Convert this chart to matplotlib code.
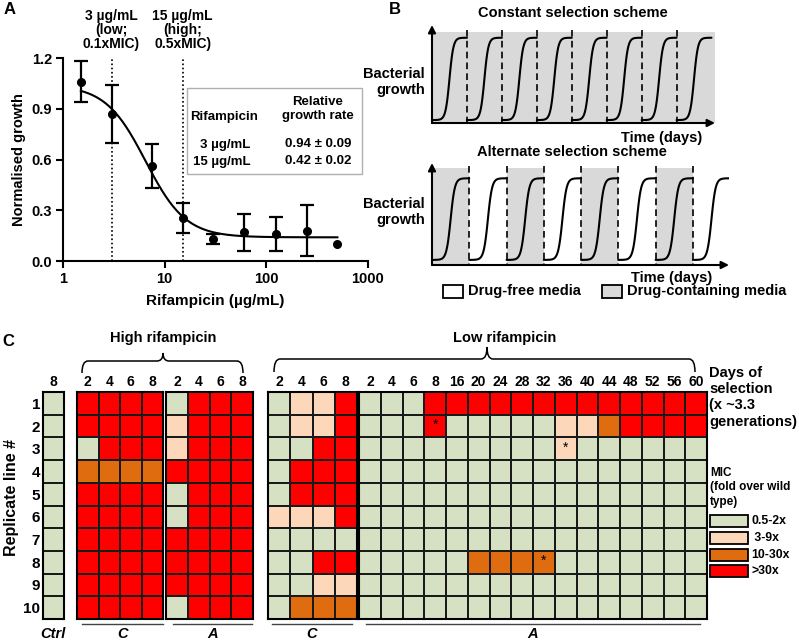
import numpy as np
import matplotlib
matplotlib.use('Agg')
import matplotlib.pyplot as plt
from matplotlib.colors import ListedColormap, BoundaryNorm
from matplotlib.patches import Rectangle, PathPatch
from matplotlib.path import Path
from matplotlib.ticker import NullLocator
import matplotlib.transforms as mtransforms

plt.rcParams['font.family'] = ['Liberation Sans', 'DejaVu Sans']
plt.rcParams['font.weight'] = 'bold'
plt.rcParams['axes.labelweight'] = 'bold'

W, H = 799, 641

#=========================================
# data
#=========================================

# panel A: dose response (last point has no error bar)
conc = [1.5, 3, 7.5, 15, 30, 60, 125, 250, 500]
growth = [1.06, 0.87, 0.56, 0.255, 0.13, 0.17, 0.16, 0.18, 0.10]
growth_err = [0.12, 0.17, 0.13, 0.09, 0.03, 0.11, 0.10, 0.15, 0.0]
fit_top, fit_bottom, fit_ec50, fit_hill = 1.04, 0.14, 6.5, 2.2
ytick_vals = [0.0, 0.3, 0.6, 0.9, 1.2]
xtick_vals = [1, 10, 100, 1000]

# panel B: transfers (days) and which ones contain drug
constant_drug = [1, 1, 1, 1, 1, 1, 1, 1]
alternate_drug = [1, 0, 1, 0, 1, 0, 1, 0]

# panel C: MIC category per replicate line (0: 0.5-2x, 1: 3-9x, 2: 10-30x, 3: >30x)
replicates = list(range(1, 11))
ctrl_days = [8]
ctrl_mic = [[0]] * 10
short_days = [2, 4, 6, 8]
long_days = [2, 4, 6, 8, 16, 20, 24, 28, 32, 36, 40, 44, 48, 52, 56, 60]
high_C = [[3, 3, 3, 3], [3, 3, 3, 3], [0, 3, 3, 3], [2, 2, 2, 2], [3, 3, 3, 3],
          [3, 3, 3, 3], [3, 3, 3, 3], [3, 3, 3, 3], [3, 3, 3, 3], [3, 3, 3, 3]]
high_A = [[0, 3, 3, 3], [1, 3, 3, 3], [1, 3, 3, 3], [3, 3, 3, 3], [0, 3, 3, 3],
          [0, 3, 3, 3], [3, 3, 3, 3], [3, 3, 3, 3], [3, 3, 3, 3], [0, 3, 3, 3]]
low_C = [[0, 1, 1, 3], [0, 1, 1, 3], [0, 0, 3, 3], [0, 3, 3, 3], [0, 3, 3, 3],
         [1, 1, 1, 3], [0, 0, 0, 0], [0, 0, 3, 3], [0, 0, 1, 1], [0, 2, 2, 2]]
low_A = [[0, 0, 0, 3, 3, 3, 3, 3, 3, 3, 3, 3, 3, 3, 3, 3],
         [0, 0, 0, 3, 0, 0, 0, 0, 0, 1, 1, 2, 3, 3, 3, 3],
         [0, 0, 0, 0, 0, 0, 0, 0, 0, 1, 0, 0, 0, 0, 0, 0],
         [0] * 16, [0] * 16, [0] * 16, [0] * 16,
         [0, 0, 0, 0, 0, 2, 2, 2, 2, 0, 0, 0, 0, 0, 0, 0],
         [0] * 16, [0] * 16]
# (replicate index, column index) of starred cells in low A
low_A_stars = [(1, 3), (2, 9), (7, 8)]
mic_labels = ['0.5-2x', ' 3-9x', '10-30x', '>30x']
mic_colors = ['#d6e1c4', '#fcd7b9', '#e06c10', '#ff0000']

#=========================================
# figure
#=========================================

fig = plt.figure(figsize=(W / 100, H / 100), dpi=100)


def px_axes(x0, y0, x1, y1, **kw):
    return fig.add_axes([x0 / W, 1 - y1 / H, (x1 - x0) / W, (y1 - y0) / H], **kw)


over = px_axes(0, 0, W, H, zorder=10)
over.set_xlim(0, W)
over.set_ylim(H, 0)
over.axis('off')
over.patch.set_alpha(0)

#---------------- panel A ----------------
ax = px_axes(63, 58, 368, 261)
ax.set_xscale('log')
ax.set_xlim(1, 1000)
ax.set_ylim(0, 1.2)
xs = np.logspace(np.log10(conc[0]), np.log10(conc[-1]), 300)
fit = fit_bottom + (fit_top - fit_bottom) / (1 + (xs / fit_ec50) ** fit_hill)
ax.plot(xs, fit, color='k', lw=1.5)
has_err = [e > 0 for e in growth_err]
ax.errorbar([c for c, h in zip(conc, has_err) if h],
            [g for g, h in zip(growth, has_err) if h],
            yerr=[e for e, h in zip(growth_err, has_err) if h],
            fmt='o', color='k', ms=5.5, elinewidth=1.6, capsize=4.7, capthick=1.6)
ax.plot([c for c, h in zip(conc, has_err) if not h],
        [g for g, h in zip(growth, has_err) if not h], 'o', color='k', ms=5.5)
for c in [3, 15]:
    ax.axvline(c, color='k', ls=(0, (1, 1.5)), lw=1.2)
ax.set_xticks(xtick_vals)
ax.set_xticklabels([str(v) for v in xtick_vals])
ax.xaxis.set_minor_locator(NullLocator())
ax.set_yticks(ytick_vals)
ax.set_yticklabels(['%.1f' % v for v in ytick_vals])
for s in ['top', 'right']:
    ax.spines[s].set_visible(False)
for s in ['left', 'bottom']:
    ax.spines[s].set_linewidth(1.5)
ax.tick_params(width=1.5, length=5, labelsize=10.5, pad=3)
ax.set_ylabel('Normalised growth', fontsize=10.5, labelpad=4)
ax.set_xlabel('Rifampicin (\u00b5g/mL)', fontsize=11, labelpad=6)
bt = mtransforms.blended_transform_factory(ax.transData, ax.transAxes)
ax.text(3, 1.035, '3 \u00b5g/mL\n(low;\n0.1xMIC)', transform=bt, ha='center',
        va='bottom', fontsize=10, linespacing=1.0)
ax.text(15, 1.035, '15 \u00b5g/mL\n(high;\n0.5xMIC)', transform=bt, ha='center',
        va='bottom', fontsize=10, linespacing=1.0)

over.add_patch(Rectangle((187, 88), 175, 86, fill=False, ec='#b0b0b0', lw=1))
over.text(224, 117, 'Rifampicin', ha='center', va='center', fontsize=9.5)
over.text(318, 109, 'Relative\ngrowth rate', ha='center', va='center', fontsize=9.5,
          linespacing=1.15)
over.text(225, 145, '3 \u00b5g/mL', ha='center', va='center', fontsize=9.5)
over.text(222, 162, '15 \u00b5g/mL', ha='center', va='center', fontsize=9.5)
over.text(318, 144, '0.94 \u00b1 0.09', ha='center', va='center', fontsize=9.5)
over.text(318, 161, '0.42 \u00b1 0.02', ha='center', va='center', fontsize=9.5)

#---------------- panel B ----------------


def scheme(box, drug, xmax, lo, hi, gray_top):
    bx = px_axes(*box)
    bx.set_xlim(0, xmax)
    bx.set_ylim(0, 1)
    bx.axis('off')
    t = np.linspace(0, 1, 100)
    for i, d in enumerate(drug):
        if d:
            right = xmax if (i == len(drug) - 1 and all(drug)) else i + 1
            bx.add_patch(Rectangle((i, 0), right - i, gray_top, fc='#d9d9d9',
                                   ec='none', zorder=0))
        y = lo + (hi - lo) / (1 + np.exp(-(t - 0.5) * 16))
        x = i + 0.05 + t * 0.9
        bx.plot(np.r_[i, x, i + 1], np.r_[lo, y, hi], color='k', lw=1.5,
                solid_capstyle='round', zorder=3)
        if i > 0:
            bx.plot([i, i], [gray_top + 0.02, 0], color='k', lw=1.2,
                    ls=(0, (4, 2.5)), zorder=2)
    bx.annotate('', xy=(xmax, 0), xytext=(0, 0), annotation_clip=False,
                arrowprops=dict(arrowstyle='-|>', color='k', lw=1.5,
                                mutation_scale=11, shrinkA=0, shrinkB=0))
    bx.annotate('', xy=(0, 1), xytext=(0, 0), annotation_clip=False,
                arrowprops=dict(arrowstyle='-|>', color='k', lw=1.5,
                                mutation_scale=11, shrinkA=0, shrinkB=0))
    return bx


scheme((432, 25, 715, 123), constant_drug, 8.1, 0.03, 0.87, 0.93)
scheme((432, 163, 729, 265), alternate_drug, 7.97, 0.05, 0.85, 0.95)

over.text(573, 13, 'Constant selection scheme', ha='center', va='center', fontsize=10.5)
over.text(572, 152, 'Alternate selection scheme', ha='center', va='center', fontsize=10.5)
over.text(425, 82, 'Bacterial\ngrowth', ha='right', va='center', fontsize=10.5,
          multialignment='right', linespacing=1.25)
over.text(425, 212, 'Bacterial\ngrowth', ha='right', va='center', fontsize=10.5,
          multialignment='right', linespacing=1.25)
over.text(702, 138, 'Time (days)', ha='right', va='center', fontsize=10.5)
over.text(712, 278, 'Time (days)', ha='right', va='center', fontsize=10.5)
over.add_patch(Rectangle((443, 285), 20, 13, fc='white', ec='k', lw=1.3))
over.text(468, 291.5, 'Drug-free media', ha='left', va='center', fontsize=10.5)
over.add_patch(Rectangle((602, 285), 20, 13, fc='#d9d9d9', ec='k', lw=1.3))
over.text(627, 291.5, 'Drug-containing media', ha='left', va='center', fontsize=10.5)

#---------------- panel C ----------------
cmap = ListedColormap(mic_colors)
norm = BoundaryNorm([-0.5, 0.5, 1.5, 2.5, 3.5], cmap.N)
row_top, row_bot = 392, 619


def block(x0, x1, days, mic, left_labels=False):
    bx = px_axes(x0, row_top, x1, row_bot)
    arr = np.array(mic)
    bx.pcolormesh(arr, cmap=cmap, norm=norm, edgecolors='#1a1a1a', linewidth=1.2)
    bx.set_xlim(0, arr.shape[1])
    bx.set_ylim(arr.shape[0], 0)
    bx.xaxis.tick_top()
    bx.set_xticks(np.arange(arr.shape[1]) + 0.5)
    bx.set_xticklabels([str(d) for d in days], fontsize=10)
    if left_labels:
        bx.set_yticks(np.arange(arr.shape[0]) + 0.5)
        bx.set_yticklabels([str(r) for r in replicates], fontsize=11)
    else:
        bx.set_yticks([])
    bx.tick_params(length=0, pad=2)
    for s in bx.spines.values():
        s.set_linewidth(1.5)
    return bx


block(43, 64, ctrl_days, ctrl_mic, left_labels=True)
block(77, 163, short_days, high_C)
block(166, 253, short_days, high_A)
block(268, 357, short_days, low_C)
lowA_ax = block(359, 707, long_days, low_A)
for r, c in low_A_stars:
    lowA_ax.text(c + 0.5, r + 0.45, '*', ha='center', va='center', fontsize=10,
                 fontweight='normal')

over.text(12, 497, 'Replicate line #', rotation=90, ha='center', va='center', fontsize=11.5)


def brace(x0, x1, xm, yline, yend, ycusp):
    r = 6
    verts = [(x0, yend), (x0, yline), (x0 + r, yline),
             (xm - r, yline), (xm, yline), (xm, ycusp),
             (xm, yline), (xm + r, yline),
             (x1 - r, yline), (x1, yline), (x1, yend)]
    codes = [Path.MOVETO, Path.CURVE3, Path.CURVE3,
             Path.LINETO, Path.CURVE3, Path.CURVE3,
             Path.CURVE3, Path.CURVE3,
             Path.LINETO, Path.CURVE3, Path.CURVE3]
    over.add_patch(PathPatch(Path(verts, codes), fill=False, lw=1.1, ec='k'))


brace(82, 243, 163, 361, 373, 353)
brace(274, 695, 487, 359, 372, 347)
over.text(163, 338, 'High rifampicin', ha='center', va='center', fontsize=10.5)
over.text(505, 338, 'Low rifampicin', ha='center', va='center', fontsize=10.5)

for xa, xb, lab in [(82, 163, 'C'), (173, 252, 'A'), (272, 352, 'C'), (366, 700, 'A')]:
    over.plot([xa, xb], [624, 624], color='#444444', lw=1)
    over.text((xa + xb) / 2, 634, lab, ha='center', va='center', fontsize=10.5,
              style='italic')
over.text(53, 634, 'Ctrl', ha='center', va='center', fontsize=10.5, style='italic')

over.text(709, 366, 'Days of\nselection\n(x ~3.3\ngenerations)', ha='left', va='top',
          fontsize=10.5, linespacing=1.2)
over.text(710, 467, 'MIC\n(fold over wild\ntype)', ha='left', va='top', fontsize=8.5,
          linespacing=1.25)
for i, (lab, col) in enumerate(zip(mic_labels, mic_colors)):
    y = 515 + i * 16.8
    over.add_patch(Rectangle((710, y), 38, 12, fc=col, ec='k', lw=1.3))
    over.text(751, y + 6, lab, ha='left', va='center', fontsize=8.8)

#---------------- panel letters ----------------
over.text(10, 10, 'A', ha='center', va='center', fontsize=12)
over.text(395, 10, 'B', ha='center', va='center', fontsize=12)
over.text(8, 341, 'C', ha='center', va='center', fontsize=12)

fig.savefig('out.png', dpi=100)
